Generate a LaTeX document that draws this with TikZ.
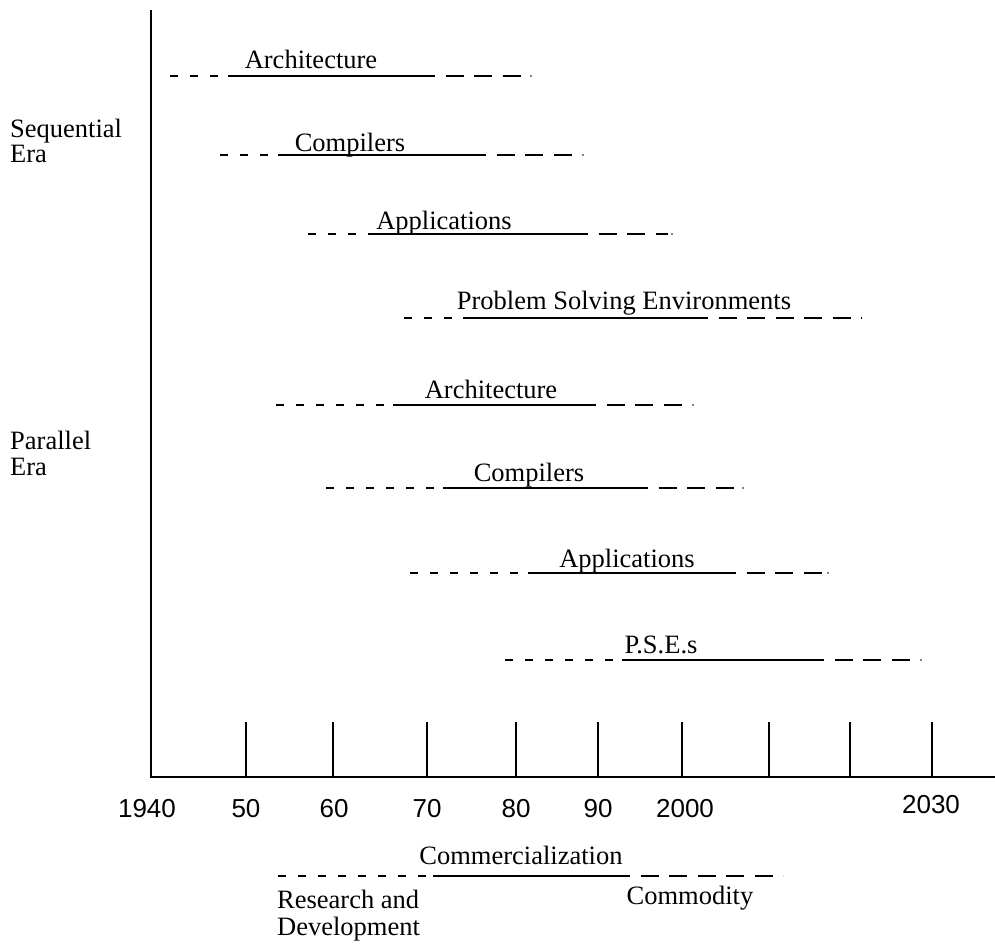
\documentclass[tikz,border=0pt]{standalone}
\usepackage{fontspec}
\setmainfont{Liberation Serif}
\newfontfamily\axisfont{Liberation Sans}
\begin{document}
\begin{tikzpicture}[x=1pt,y=-1pt,
  lbl/.style={font=\fontsize{26.5}{30}\selectfont, inner sep=0pt, anchor=base},
  sidelbl/.style={font=\fontsize{26.5}{30}\selectfont, inner sep=0pt, anchor=base west},
  yr/.style={font=\axisfont\fontsize{26}{30}\selectfont, inner sep=0pt, anchor=base},
  axisline/.style={line width=2pt},
  tickline/.style={line width=1.4pt},
  rdline/.style={line width=1.4pt, dash pattern=on 8pt off 12pt},
  comline/.style={line width=1.4pt},
  cmdline/.style={line width=1.4pt, dash pattern=on 18pt off 10.5pt}]
\useasboundingbox (0,0) rectangle (995,951);

% axes
\coordinate (ytop) at (151,10);
\coordinate (orig) at (151,777);
\coordinate (xend) at (995,777);
\draw[axisline] (ytop) -- (orig) -- (xend);

% ticks
\foreach \x [count=\k] in {246,333,427,516,598,682,769,850,932}{
  \coordinate (tt\k) at (\x,722);
  \coordinate (tb\k) at (\x,777);
  \draw[tickline] (tt\k) -- (tb\k);
}

% year labels
\node[yr] (y1940) at (147,817) {1940};
\node[yr] (y50) at (246,817) {50};
\node[yr] (y60) at (334,817) {60};
\node[yr] (y70) at (427,817) {70};
\node[yr] (y80) at (516,817) {80};
\node[yr] (y90) at (598,817) {90};
\node[yr] (y2000) at (685,817) {2000};
\node[yr] (y2030) at (931,813) {2030};

% era labels
\node[sidelbl] (seq1) at (10,137) {Sequential};
\node[sidelbl] (seq2) at (10,162) {Era};
\node[sidelbl] (par1) at (10,449) {Parallel};
\node[sidelbl] (par2) at (10,475) {Era};

% rows
\foreach \i/\yy/\a/\b/\c/\d/\e/\tx/\ty/\txt in {
  1/76/170/228/417/523/531/311/68/Architecture,
  2/155/220/278/468/575/583/350/151/Compilers,
  3/234/308/368/570/668/672/444/229/Applications,
  5/405/276/393/578/690/693/491/398/Architecture,
  6/488/326/443/630/740/743/529/481/Compilers,
  7/573/410/528/718/825/828/627/567/Applications,
  8/660/505/622/806/918/921/661/653/P.S.E.s}{
  \coordinate (a\i) at (\a,\yy);
  \coordinate (b\i) at (\b,\yy);
  \coordinate (c\i) at (\c,\yy);
  \coordinate (d\i) at (\d,\yy);
  \coordinate (e\i) at (\e,\yy);
  \draw[rdline] (a\i) -- (b\i);
  \draw[comline] (b\i) -- (c\i);
  \draw[cmdline] (c\i) -- (d\i);
  \fill (e\i) circle (0.9);
  \node[lbl] (t\i) at (\tx,\ty) {\txt};
}
% row 4
\coordinate (a4) at (404,318);
\coordinate (b4) at (463,318);
\coordinate (c4) at (690,318);
\coordinate (d4) at (862,318);
\draw[rdline] (a4) -- (b4);
\draw[comline] (b4) -- (c4);
\draw[cmdline] (c4) -- (d4);
\node[lbl] (t4) at (624,309) {Problem Solving Environments};

% legend
\coordinate (la) at (278,876);
\coordinate (lb) at (433,876);
\coordinate (lc) at (612,876);
\coordinate (ld) at (783,876);
\draw[rdline] (la) -- (lb);
\draw[comline] (lb) -- (lc);
\draw[cmdline] (lc) -- (ld);
\node[lbl] (lcom) at (521,864) {Commercialization};
\node[sidelbl] (lrd1) at (277,908) {Research and};
\node[sidelbl] (lrd2) at (277,935) {Development};
\node[lbl] (lcmd) at (690,904) {Commodity};
\end{tikzpicture}
\end{document}
